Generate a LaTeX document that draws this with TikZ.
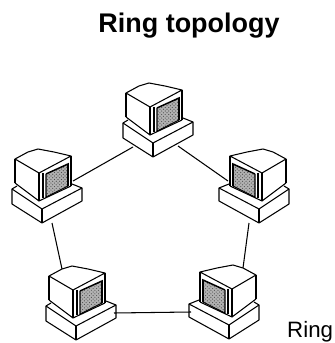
\documentclass[tikz,border=0pt]{standalone}
\usepackage{fontspec}
\setmainfont{Liberation Sans}
\usetikzlibrary{patterns}
\colorlet{screengray}{black!30}
\tikzset{
    wire/.style={line width=0.9pt},
    pc/.pic={
        \draw[wire,line join=round] (-27,-64)--(-14,-71)--(-4,-74)--(12,-71)--(29,-67)--(-3,-50)--cycle;
        \draw[wire,line width=1.3pt] (-27,-64)--(-27,-40);
        \draw[wire,line width=1.3pt] (-3,-50)--(-3,-22);
        \draw[wire,line width=1.3pt] (29,-67)--(29,-37);
        \draw[wire] (-27,-40)--(-3,-22)--(29,-37);
        \draw[wire] (1,-50)--(1,-25);
        \fill[screengray] (4,-48) -- (25,-58) -- (25,-37) -- (4,-27) -- cycle;
        \fill[pattern=crosshatch dots,pattern color=black!70] (4,-48) -- (25,-58) -- (25,-37) -- (4,-27) -- cycle;
        \draw[wire,line width=1.3pt] (4,-49)--(26,-59)--(26,-37);
        \draw[wire] (4,-49)--(4,-26)--(26,-37);
        \draw[wire,line join=round] (-25,-37)--(-30,-34)--(-30,-19)--(0,0)--(40,-22)--(40,-35)--(30,-39);
        \draw[wire] (-30,-34)--(0,-14)--(40,-35);
        \draw[wire] (0,-14)--(0,0);
        \coordinate (-lo) at (-20,-10);
        \coordinate (-ro) at (25,-11);
        \coordinate (-side) at (31,-42);
        \coordinate (-foot) at (10,0);
        \coordinate (-top) at (-14,-71);
        \coordinate (-base) at (38,-27);
    }
}
\begin{document}
\begin{tikzpicture}[x=0.03cm,y=-0.03cm]
    \useasboundingbox (0,0) rectangle (334,343);
    \node[font=\bfseries\fontsize{23}{23}\selectfont,anchor=base] (title) at (189,33) {Ring topology};
    \node[font=\fontsize{19}{19}\selectfont,anchor=base west,inner sep=0pt] (ringlabel) at (287,337) {Ring};
    \foreach \name/\x/\y/\flip in {toppc/153/157/1,leftpc/42/223/1,rightpc/259/223/-1,lowleft/76/340/1,lowright/229/339/-1}{
        \pic[xscale=\flip] (\name) at (\x,\y) {pc};
    }
    \draw[wire] (toppc-lo)--(leftpc-side);
    \draw[wire] (toppc-ro)--(rightpc-side);
    \draw[wire] (leftpc-foot)--(lowleft-top);
    \draw[wire] (rightpc-foot)--(lowright-top);
    \draw[wire] (lowleft-base)--(lowright-base);
\end{tikzpicture}
\end{document}
